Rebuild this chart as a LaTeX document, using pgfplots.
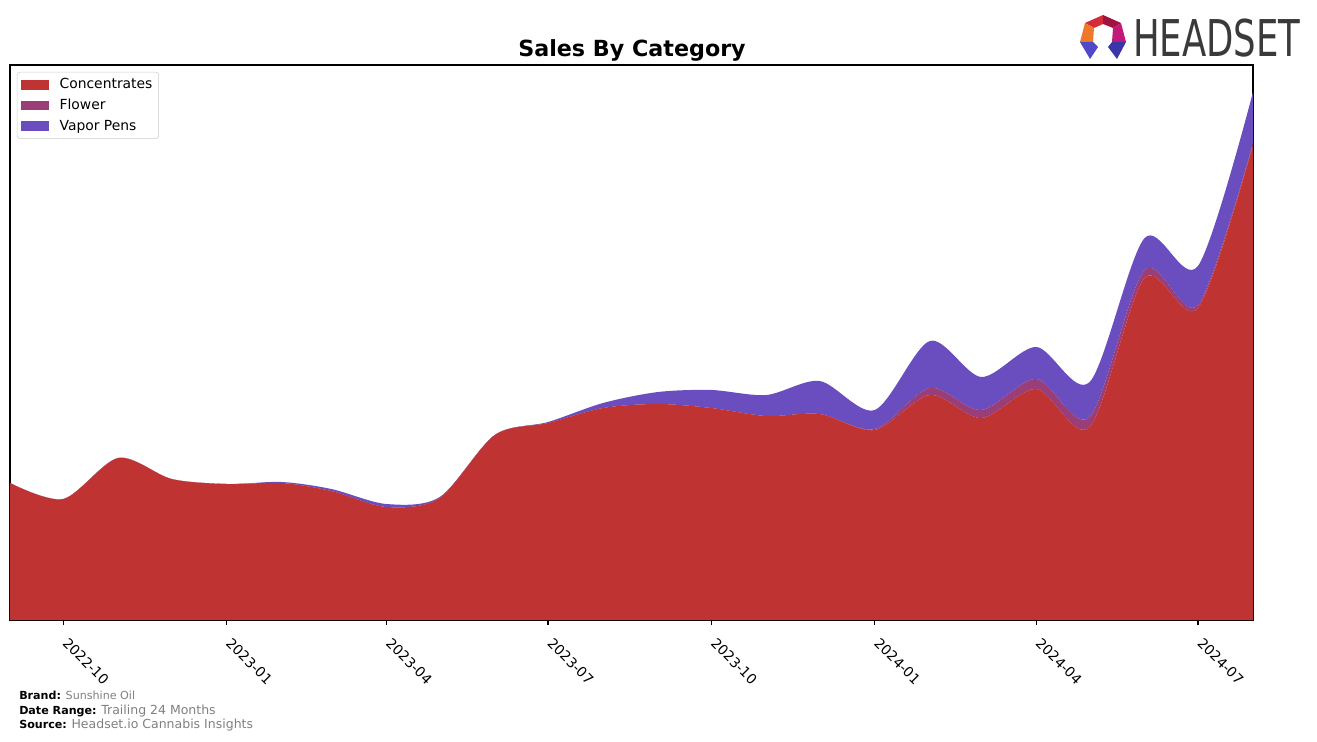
\documentclass[border=0pt]{standalone}
\usepackage{fontspec}
\setmainfont{DejaVu Sans}
\usepackage{pgfplots}
\pgfplotsset{compat=1.18}

\definecolor{conc}{RGB}{192,51,51}
\definecolor{flower}{RGB}{153,62,120}
\definecolor{vapor}{RGB}{106,77,190}
\definecolor{logogray}{RGB}{58,58,58}

\begin{document}
\begin{tikzpicture}
% page = 1317 x 741 px, 1 px = 0.72 pt
\path[use as bounding box] (0,0) rectangle (948.24pt,533.52pt);

\begin{axis}[
  at={(7.2pt,87.12pt)}, anchor=south west,
  scale only axis, width=894.96pt, height=399.6pt,
  xmin=-30, xmax=670, ymin=0, ymax=555,
  stack plots=y,
  ytick=\empty,
  xtick={0,92,182,273,365,457,548,639},
  xticklabels={2022-10,2023-01,2023-04,2023-07,2023-10,2024-01,2024-04,2024-07},
  xtick pos=bottom, tick align=outside, major tick length=3.6pt,
  x tick label style={rotate=-45, anchor=north west, font=\fontsize{10}{12}\selectfont,
    inner sep=1pt, xshift=8pt, yshift=-2pt},
  axis line style={line width=0.8pt},
  every tick/.style={black, line width=0.8pt},
  legend style={at={(5pt,394.6pt)}, anchor=north west, draw=black!20, rounded corners=2pt,
    font=\fontsize{10}{12}\selectfont, inner xsep=3pt, inner ysep=3pt, row sep=3pt,
    nodes={inner sep=1.5pt},
    /tikz/every odd column/.append style={column sep=6pt}},
  legend cell align=left,
  legend image code/.code={\fill[#1,draw=none,sharp corners] (0pt,-3.5pt) rectangle (20pt,3.5pt);},
]
\addplot[fill=conc, draw=none, smooth] coordinates {
  (-30,137) (0,121) (31,162) (61,141) (92,136) (123,137) (151,129) (182,113)
  (212,122) (243,185) (273,197) (304,212) (335,216) (365,212) (396,204) (426,206)
  (457,190) (488,225) (517,202) (548,231) (578,193) (609,342) (639,312) (670,475)
} \closedcycle;
\addlegendentry{Concentrates}
\addplot[fill=flower, draw=none, smooth] coordinates {
  (-30,0) (0,0) (31,0) (61,0) (92,0) (123,0) (151,0) (182,0)
  (212,0) (243,0) (273,0) (304,0) (335,0) (365,0) (396,0) (426,0)
  (457,1) (488,7) (517,8) (548,10) (578,10) (609,8) (639,3) (670,2)
} \closedcycle;
\addlegendentry{Flower}
\addplot[fill=vapor, draw=none, smooth] coordinates {
  (-30,0) (0,0) (31,0) (61,0) (92,0) (123,1) (151,2) (182,3)
  (212,1) (243,0) (273,1) (304,5) (335,12) (365,18) (396,21) (426,33)
  (457,19) (488,47) (517,33) (548,32) (578,35) (609,32) (639,39) (670,51)
} \closedcycle;
\addlegendentry{Vapor Pens}
\end{axis}

\node[font=\fontsize{16}{19}\bfseries\selectfont, anchor=base] at (455.04pt,492.48pt) {Sales By Category};

% footer
\node[anchor=base west, inner sep=0pt] at (13.68pt,30.24pt)
  {\fontsize{8}{9}\selectfont\textbf{Brand:} \textcolor{gray}{Sunshine Oil}};
\node[anchor=base west, inner sep=0pt] at (13.68pt,19.44pt)
  {\fontsize{8}{9}\selectfont\textbf{Date Range:} \textcolor{gray}{\fontsize{9}{10}\selectfont Trailing 24 Months}};
\node[anchor=base west, inner sep=0pt] at (13.68pt,9.36pt)
  {\fontsize{8}{9}\selectfont\textbf{Source:} \textcolor{gray}{\fontsize{9}{10}\selectfont Headset.io Cannabis Insights}};

% logo
\begin{scope}[x=0.72pt, y=-0.72pt, shift={(0pt,533.52pt)}]
  \fill[fill={rgb,255:red,212;green,42;blue,58}] (1085,23) -- (1103,15) -- (1103,24) -- (1094,28) -- cycle;
  \fill[fill={rgb,255:red,163;green,18;blue,63}] (1103,15) -- (1121,23) -- (1113,28) -- (1103,24) -- cycle;
  \fill[fill={rgb,255:red,194;green,24;blue,122}] (1121,23) -- (1126,42) -- (1112,42) -- (1113,28) -- cycle;
  \fill[fill={rgb,255:red,240;green,120;blue,42}] (1085,23) -- (1094,28) -- (1093,42) -- (1080,42) -- cycle;
  \fill[fill={rgb,255:red,80;green,72;blue,200}] (1080,42) -- (1093,42) -- (1098,47) -- (1090,59) -- cycle;
  \fill[fill={rgb,255:red,58;green,54;blue,168}] (1112,42) -- (1126,42) -- (1117,59) -- (1108,47) -- cycle;
  \node[anchor=base west, inner sep=0pt, text=logogray] at (1133,57)
    {\scalebox{0.7}[1]{\fontsize{36.5}{40}\selectfont HEADSET}};
\end{scope}
\end{tikzpicture}
\end{document}
